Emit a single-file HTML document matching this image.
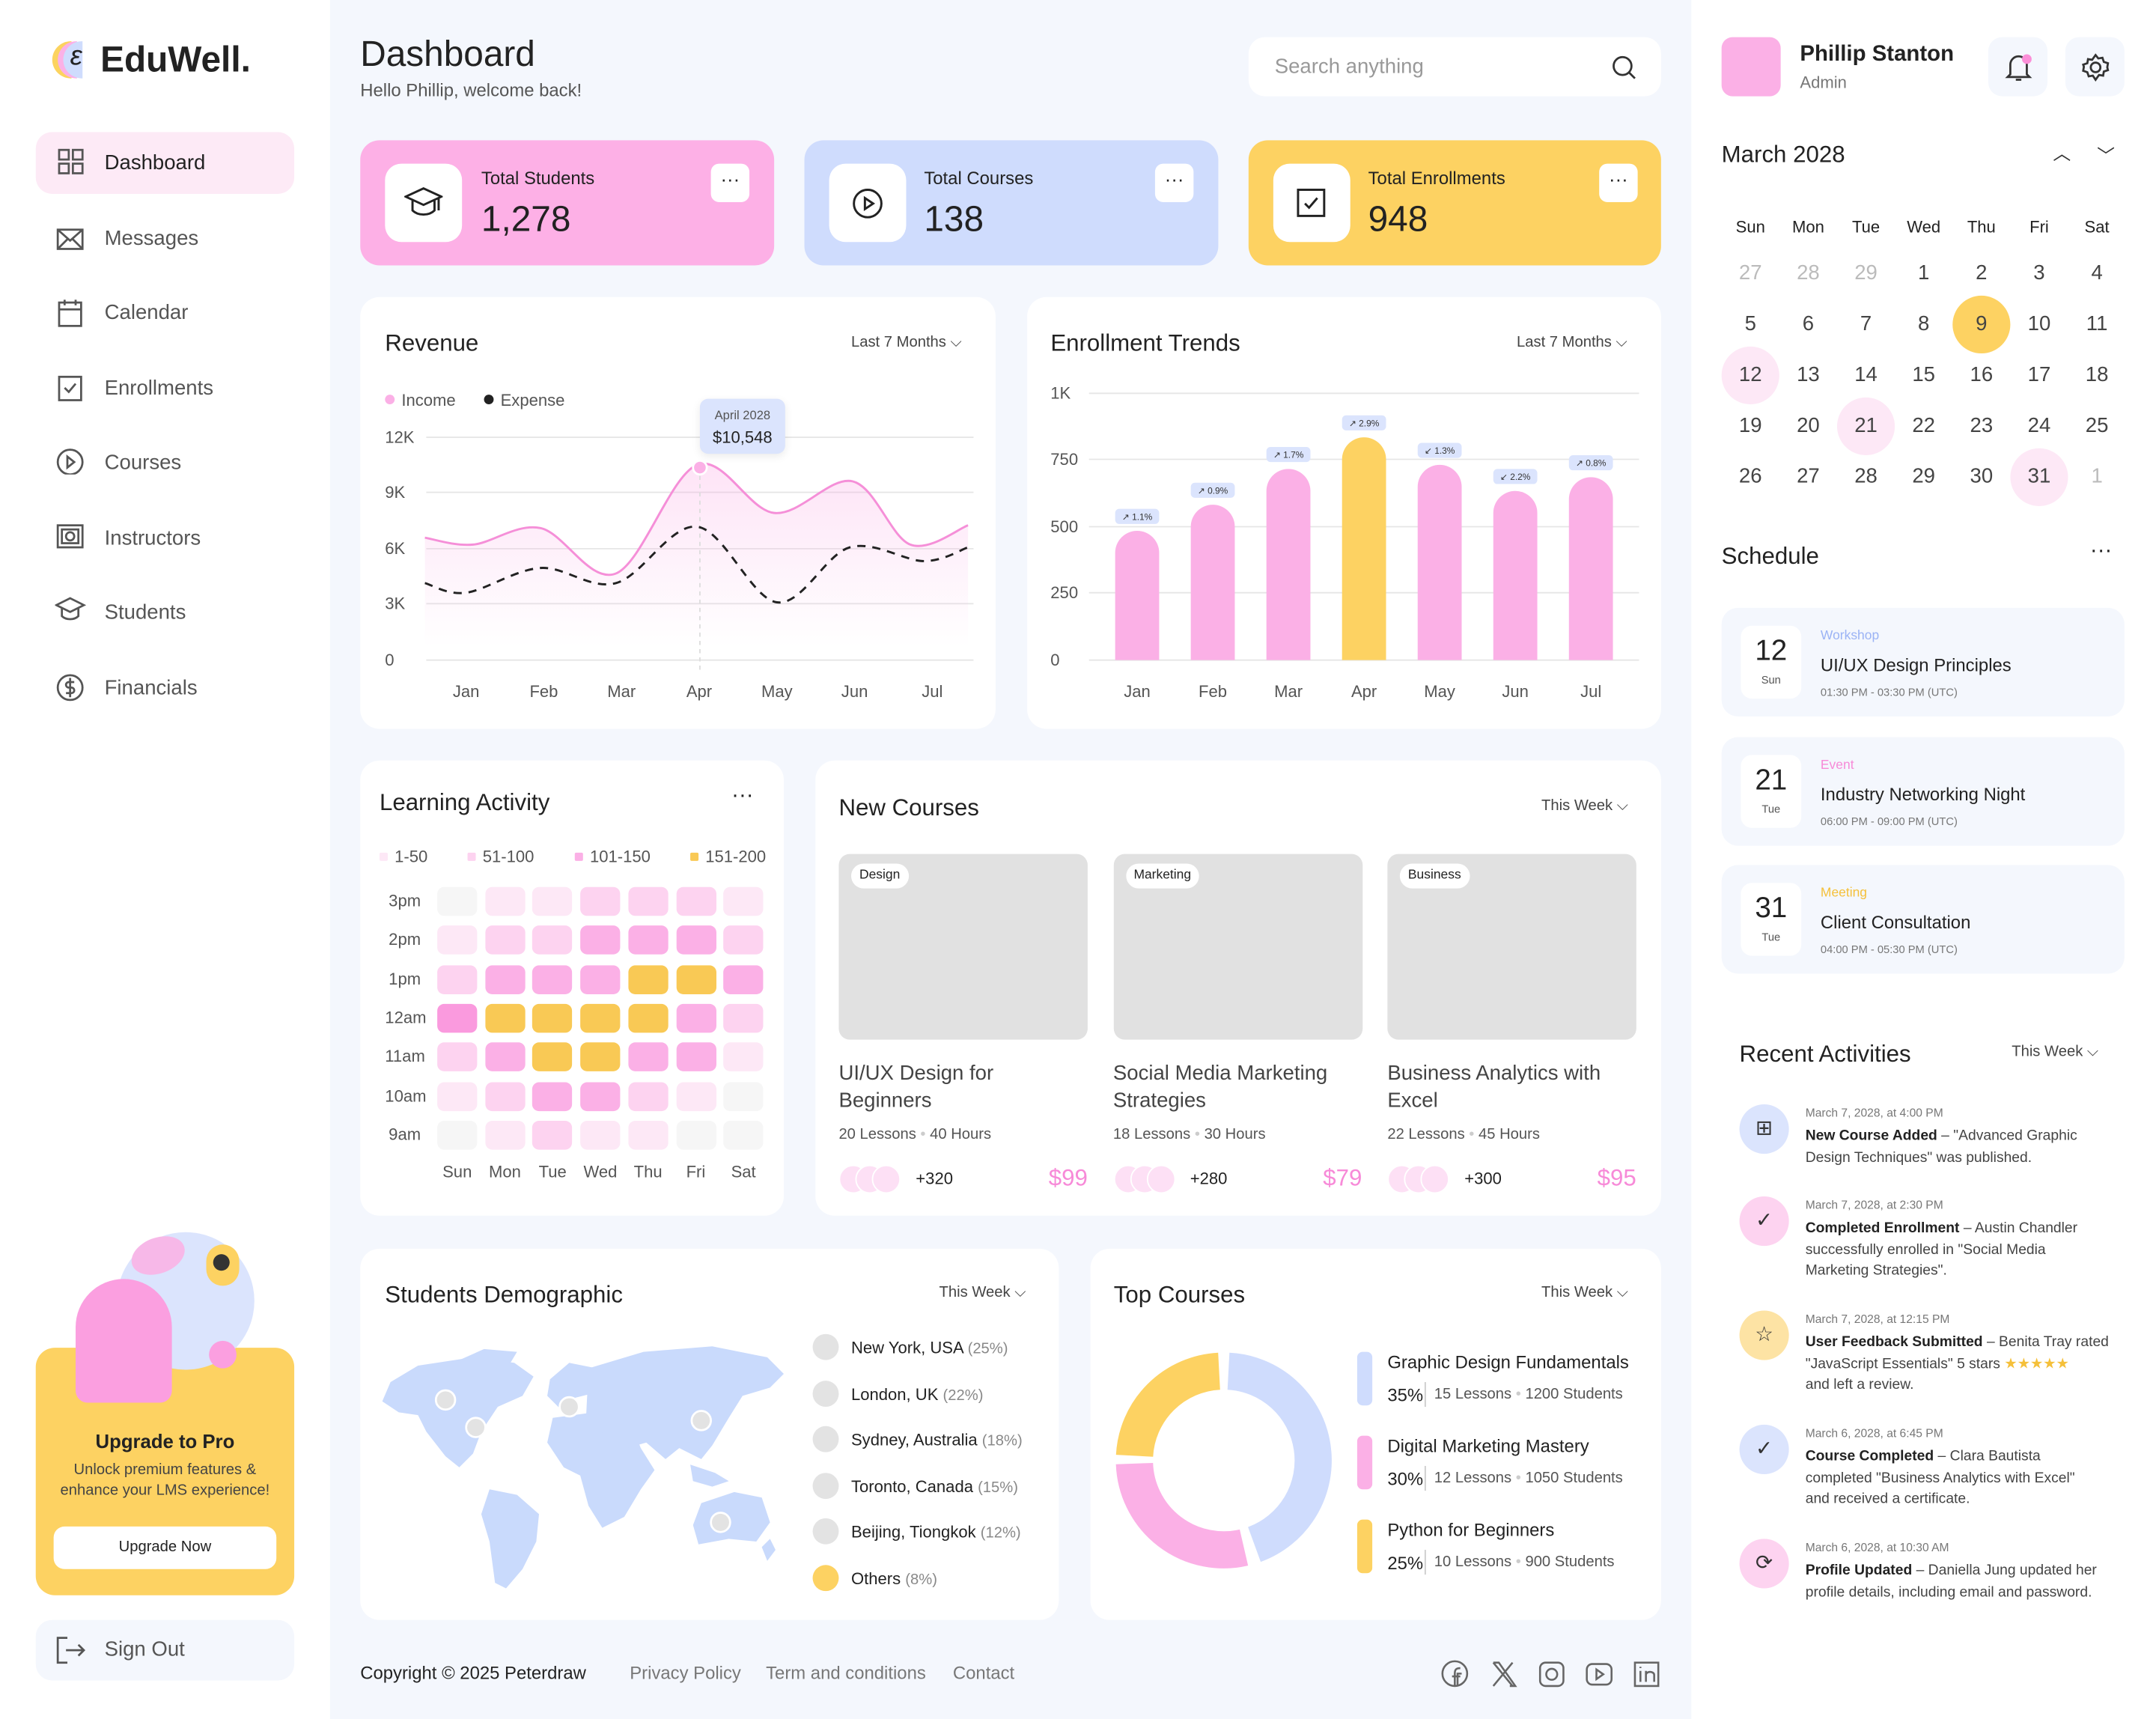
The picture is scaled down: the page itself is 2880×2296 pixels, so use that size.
<!DOCTYPE html>
<html><head><meta charset="utf-8">
<style>
*{box-sizing:border-box;margin:0;padding:0}
html,body{width:2880px;height:2294px;overflow:hidden;background:#f4f7fd}
#w{position:absolute;left:0;top:0;width:1568px;height:1250px;transform:scale(1.8368);transform-origin:0 0;font-family:"Liberation Sans",sans-serif;color:#222;background:#f4f7fd}
.a{position:absolute}
.card{position:absolute;background:#fff;border-radius:14px}
.t{position:absolute;white-space:nowrap}
.h{font-size:17px;color:#222}
.dd{font-size:11px;color:#444}
.nav{position:absolute;left:40px;font-size:15px;color:#555}
.g{color:#888}
</style></head><body><div id="w">
<!-- sidebar -->
<div class="a" style="left:0;top:0;width:240px;height:1250px;background:#fff"></div>
<div class="a" style="left:1230px;top:0;width:338px;height:1250px;background:#fff"></div>
<div class="a" style="left:38px;top:30px;width:14px;height:27px;border-radius:14px 0 0 14px;background:#fcd35f"></div>
<div class="a" style="left:42px;top:30px;width:14px;height:27px;border-radius:14px 0 0 14px;background:#fbb1e6"></div>
<div class="a" style="left:46px;top:30px;width:14px;height:27px;border-radius:14px 0 0 14px;background:#cfdcfd"></div>
<div class="t" style="left:51px;top:30px;font-size:20px;font-style:italic">ε</div>
<div class="t" style="left:73px;top:28px;font-size:26px;font-weight:bold;color:#222">EduWell.</div>
<div class="a" style="left:26px;top:96px;width:188px;height:45px;border-radius:12px;background:#fdeaf6"></div>
<svg class="a" style="left:40px;top:105px" width="24" height="240" fill="none" stroke="#555" stroke-width="1.5">
<rect x="3" y="4" width="7" height="7"/><rect x="13" y="4" width="7" height="7"/><rect x="3" y="14" width="7" height="7"/><rect x="13" y="14" width="7" height="7"/>
<rect x="2" y="62" width="18" height="14"/><path d="M2 62l9 8 9-8M2 76l7-7M20 76l-7-7"/>
<rect x="3" y="115" width="16" height="17"/><path d="M3 120h16M7 113v4M15 113v4"/>
<rect x="3" y="169" width="16" height="17"/><path d="M7 177l3 3 5-6"/>
<circle cx="11" cy="231" r="9"/><path d="M9 227v8l5-4z"/>
</svg>
<svg class="a" style="left:40px;top:378px" width="24" height="140" fill="none" stroke="#555" stroke-width="1.5">
<rect x="2" y="4" width="18" height="16"/><rect x="5" y="7" width="12" height="10"/><circle cx="11" cy="12" r="3"/>
<path d="M1 62l10-5 10 5-10 5zM5 64v6c3 3 9 3 12 0v-6"/>
<circle cx="11" cy="122" r="9"/><path d="M14 118h-4a2 2 0 000 4h2a2 2 0 010 4H8M11 115v14"/>
</svg>
<div class="nav" style="left:76px;top:110px;color:#222">Dashboard</div>
<div class="nav" style="left:76px;top:165px">Messages</div>
<div class="nav" style="left:76px;top:219px">Calendar</div>
<div class="nav" style="left:76px;top:274px">Enrollments</div>
<div class="nav" style="left:76px;top:328px">Courses</div>
<div class="nav" style="left:76px;top:383px">Instructors</div>
<div class="nav" style="left:76px;top:437px">Students</div>
<div class="nav" style="left:76px;top:492px">Financials</div>
<!-- upgrade -->
<div class="a" style="left:26px;top:980px;width:188px;height:180px;border-radius:14px;background:#fdd262"></div>
<div class="a" style="left:85px;top:896px;width:100px;height:100px;border-radius:50%;background:#dbe4fd"></div>
<div class="a" style="left:55px;top:930px;width:70px;height:90px;border-radius:40px 40px 10px 10px;background:#fb9fe0"></div>
<div class="a" style="left:95px;top:900px;width:40px;height:26px;border-radius:50%;background:#f7b8e8;transform:rotate(-20deg)"></div>
<div class="a" style="left:150px;top:905px;width:24px;height:30px;border-radius:12px;background:#fdd262"></div>
<div class="a" style="left:155px;top:912px;width:12px;height:12px;border-radius:50%;background:#333"></div>
<div class="a" style="left:152px;top:975px;width:20px;height:20px;border-radius:50%;background:#fb9fe0"></div>
<div class="t" style="left:26px;top:1040px;width:188px;text-align:center;font-size:14px;font-weight:bold">Upgrade to Pro</div>
<div class="t" style="left:26px;top:1062px;width:188px;text-align:center;font-size:11px;color:#444;line-height:15px;white-space:normal">Unlock premium features &amp;<br>enhance your LMS experience!</div>
<div class="a" style="left:39px;top:1110px;width:162px;height:31px;border-radius:8px;background:#fff;font-size:11px;text-align:center;line-height:31px">Upgrade Now</div>
<div class="a" style="left:26px;top:1178px;width:188px;height:44px;border-radius:12px;background:#f4f7fd"></div>
<svg class="a" style="left:40px;top:1189px" width="24" height="22" fill="none" stroke="#555" stroke-width="1.5"><path d="M9 2H2v18h7M8 11h13M17 7l4 4-4 4"/></svg>
<div class="nav" style="left:76px;top:1191px">Sign Out</div>

<!-- header -->
<div class="t" style="left:262px;top:24px;font-size:26px">Dashboard</div>
<div class="t" style="left:262px;top:58px;font-size:13px;color:#555">Hello Phillip, welcome back!</div>
<div class="a" style="left:908px;top:27px;width:300px;height:43px;border-radius:12px;background:#fff"></div>
<div class="t" style="left:927px;top:40px;font-size:15px;color:#999">Search anything</div>
<svg class="a" style="left:1172px;top:40px" width="18" height="18" fill="none" stroke="#333" stroke-width="1.5"><circle cx="8" cy="8" r="6.5"/><path d="M13 13l4 4"/></svg>

<!-- stats -->
<div class="a" style="left:262px;top:102px;width:301px;height:91px;border-radius:14px;background:#fdb0e6"></div>
<div class="a" style="left:585px;top:102px;width:301px;height:91px;border-radius:14px;background:#cfdcfd"></div>
<div class="a" style="left:908px;top:102px;width:300px;height:91px;border-radius:14px;background:#fdd262"></div>
<div class="a" style="left:280px;top:119px;width:56px;height:57px;border-radius:12px;background:#fff"></div>
<div class="a" style="left:603px;top:119px;width:56px;height:57px;border-radius:12px;background:#fff"></div>
<div class="a" style="left:926px;top:119px;width:56px;height:57px;border-radius:12px;background:#fff"></div>
<svg class="a" style="left:294px;top:134px" width="28" height="28" fill="none" stroke="#222" stroke-width="1.6"><path d="M1 9l13-6 13 6-13 6zM6 12v7c4 4 12 4 16 0v-7M25 10v9"/></svg>
<svg class="a" style="left:619px;top:136px" width="24" height="24" fill="none" stroke="#222" stroke-width="1.6"><circle cx="12" cy="12" r="10"/><path d="M10 8v8l6-4z"/></svg>
<svg class="a" style="left:943px;top:137px" width="22" height="22" fill="none" stroke="#222" stroke-width="1.6"><rect x="1" y="1" width="19" height="19"/><path d="M6 11l3 3 6-7"/></svg>
<div class="t" style="left:350px;top:122px;font-size:13px">Total Students</div>
<div class="t" style="left:350px;top:144px;font-size:26px">1,278</div>
<div class="t" style="left:672px;top:122px;font-size:13px">Total Courses</div>
<div class="t" style="left:672px;top:144px;font-size:26px">138</div>
<div class="t" style="left:995px;top:122px;font-size:13px">Total Enrollments</div>
<div class="t" style="left:995px;top:144px;font-size:26px">948</div>
<div class="a" style="left:517px;top:119px;width:28px;height:28px;border-radius:6px;background:#fff;text-align:center;font-size:14px;line-height:22px">···</div>
<div class="a" style="left:840px;top:119px;width:28px;height:28px;border-radius:6px;background:#fff;text-align:center;font-size:14px;line-height:22px">···</div>
<div class="a" style="left:1163px;top:119px;width:28px;height:28px;border-radius:6px;background:#fff;text-align:center;font-size:14px;line-height:22px">···</div>

<!-- revenue -->
<div class="card" style="left:262px;top:216px;width:462px;height:314px"></div>
<div class="t h" style="left:280px;top:240px">Revenue</div>
<div class="t dd" style="left:619px;top:243px">Last 7 Months ⌵</div>
<div class="a" style="left:280px;top:287px;width:7px;height:7px;border-radius:50%;background:#fbb0e6"></div>
<div class="t" style="left:292px;top:284px;font-size:12px;color:#555">Income</div>
<div class="a" style="left:352px;top:287px;width:7px;height:7px;border-radius:50%;background:#222"></div>
<div class="t" style="left:364px;top:284px;font-size:12px;color:#555">Expense</div>
<svg class="a" style="left:262px;top:216px" width="462" height="314" id="rev"></svg>
<div class="a" style="left:509px;top:290px;width:62px;height:40px;border-radius:6px;background:#dbe4fd;box-shadow:0 2px 6px rgba(0,0,0,.08)"></div>
<div class="t" style="left:509px;top:297px;width:62px;text-align:center;font-size:9px;color:#555">April 2028</div>
<div class="t" style="left:509px;top:311px;width:62px;text-align:center;font-size:12px">$10,548</div>

<!-- enrollment -->
<div class="card" style="left:747px;top:216px;width:461px;height:314px"></div>
<div class="t h" style="left:764px;top:240px">Enrollment Trends</div>
<div class="t dd" style="left:1103px;top:243px">Last 7 Months ⌵</div>
<svg class="a" style="left:747px;top:216px" width="461" height="314" id="enr"></svg>

<!-- learning activity -->
<div class="card" style="left:262px;top:553px;width:308px;height:331px"></div>
<div class="t h" style="left:276px;top:574px">Learning Activity</div>
<div class="t" style="left:532px;top:570px;font-size:16px">···</div>
<div id="la"></div>

<!-- new courses -->
<div class="card" style="left:593px;top:553px;width:615px;height:331px"></div>
<div class="t h" style="left:610px;top:578px">New Courses</div>
<div class="t dd" style="left:1121px;top:580px">This Week ⌵</div>
<div id="nc"></div>

<!-- demographic -->
<div class="card" style="left:262px;top:908px;width:508px;height:270px"></div>
<div class="t h" style="left:280px;top:932px">Students Demographic</div>
<div class="t dd" style="left:683px;top:934px">This Week ⌵</div>
<svg class="a" style="left:278px;top:975px" width="295" height="180" fill="#c9dafc">
<path d="M6 30l20-12 40-6 30 4 14 10-8 14-18 8-12 18-6 16-10 10-10-8-14-18-6-12-14-2-12-8z"/>
<path d="M56 14l18-8 24 2-6 10-20 4z"/>
<path d="M78 108l20 4 16 14-2 20-10 20-12 14-8-4-4-30-6-20z"/>
<path d="M122 28l14-12 20 4 8 10-10 8-16 4-8 8-10-10z"/>
<path d="M124 56l30-4 26 6 8 20 10 16-10 14-12 20-16 8-10-16-6-22-12-6-12-18z"/>
<path d="M150 20l40-12 50-4 40 8 12 12-10 10-20 6-10 16-12 20-8 10-16-8-10 8-14-12-14 4-16-10-14-8z"/>
<path d="M190 48l24 8 10 14-14 4-16-6z"/>
<path d="M224 90l18 6 10 6-12 4-14-4z"/>
<path d="M232 118l24-8 20 4 6 18-10 14-20-2-22 4-4-14z"/>
<path d="M276 150l6-6 4 8-6 8z"/>
</svg>
<svg class="a" style="left:278px;top:975px" width="295" height="180" fill="#e3e3e3" stroke="#fff" stroke-width="1.5">
<circle cx="46" cy="43" r="7"/><circle cx="68" cy="63" r="7"/><circle cx="136" cy="48" r="7"/><circle cx="232" cy="58" r="7"/><circle cx="246" cy="132" r="7"/>
</svg>
<div id="dm"></div>

<!-- top courses -->
<div class="card" style="left:793px;top:908px;width:415px;height:270px"></div>
<div class="t h" style="left:810px;top:932px">Top Courses</div>
<div class="t dd" style="left:1121px;top:934px">This Week ⌵</div>
<svg class="a" style="left:793px;top:970px" width="190" height="190" id="donut"></svg>
<div id="tc"></div>

<!-- footer -->
<div class="t" style="left:262px;top:1209px;font-size:13px">Copyright © 2025 Peterdraw</div>
<div class="t" style="left:458px;top:1209px;font-size:13px;color:#777">Privacy Policy</div>
<div class="t" style="left:557px;top:1209px;font-size:13px;color:#777">Term and conditions</div>
<div class="t" style="left:693px;top:1209px;font-size:13px;color:#777">Contact</div>
<svg class="a" style="left:1048px;top:1206px" width="162" height="22" fill="none" stroke="#666" stroke-width="1.4">
<circle cx="10" cy="11" r="9"/><path d="M12 20v-9h3M10 20v-9c0-3 1-4 4-4M8 13h6"/>
<path d="M38 3l14 17M52 3L38 20M38 3h4l12 17h-4"/>
<rect x="72" y="3" width="17" height="17" rx="4"/><circle cx="80.5" cy="11.5" r="4"/>
<rect x="106" y="4" width="18" height="15" rx="4"/><path d="M113 8v7l5-3.5z"/>
<rect x="141" y="3" width="17" height="17"/><path d="M145 9v8M145 6v1M149 17v-8M149 12c0-3 6-3 6 0v5"/>
</svg>

<!-- right panel -->
<div class="a" style="left:1252px;top:27px;width:43px;height:43px;border-radius:8px;background:#fbb0e6"></div>
<div class="t" style="left:1309px;top:31px;font-size:16px;font-weight:bold">Phillip Stanton</div>
<div class="t" style="left:1309px;top:53px;font-size:12px;color:#777">Admin</div>
<div class="a" style="left:1446px;top:27px;width:43px;height:43px;border-radius:10px;background:#f4f7fd"></div>
<div class="a" style="left:1502px;top:27px;width:43px;height:43px;border-radius:10px;background:#f4f7fd"></div>
<svg class="a" style="left:1458px;top:38px" width="20" height="22" fill="none" stroke="#333" stroke-width="1.5"><path d="M4 16V9a6 6 0 0112 0v7l2 2H2zM8 20h4"/><circle cx="16" cy="5" r="3.5" fill="#fb8fd8" stroke="none"/></svg>
<svg class="a" style="left:1513px;top:38px" width="22" height="22" fill="none" stroke="#333" stroke-width="1.5"><circle cx="11" cy="11" r="3.5"/><path d="M11 2l2 2.5 3-.5 1 3 3 1-.5 3L20 13l-3 1-.5 3-3-.5L11 20l-2-3-3 .5-1-3-3-1 .5-3L2 9l3-1 .5-3 3 .5z"/></svg>
<div class="t" style="left:1252px;top:103px;font-size:17px">March 2028</div>
<div class="t" style="left:1493px;top:101px;font-size:13px;color:#333">︿</div>
<div class="t" style="left:1525px;top:103px;font-size:13px;color:#333">﹀</div>
<div id="cal"></div>
<div class="t h" style="left:1252px;top:395px">Schedule</div>
<div class="t" style="left:1520px;top:392px;font-size:16px">···</div>
<div id="sch"></div>
<div class="t h" style="left:1265px;top:757px">Recent Activities</div>
<div class="t dd" style="left:1463px;top:759px">This Week ⌵</div>
<div id="ra"></div>
</div>
<script>
function $(id){return document.getElementById(id)}
function H(id,s){$(id).insertAdjacentHTML('beforeend',s)}
function cr(p){let d='M'+p[0][0]+' '+p[0][1];for(let i=0;i<p.length-1;i++){let a=p[i-1]||p[i],b=p[i],c=p[i+1],e=p[i+2]||c;d+=' C'+(b[0]+(c[0]-a[0])/6)+' '+(b[1]+(c[1]-a[1])/6)+' '+(c[0]-(e[0]-b[0])/6)+' '+(c[1]-(e[1]-b[1])/6)+' '+c[0]+' '+c[1];}return d}
(function(){let ox=262,oy=216,s='<defs><linearGradient id="gr" x1="0" y1="0" x2="0" y2="1"><stop offset="0" stop-color="#fbb0e6" stop-opacity=".35"/><stop offset="1" stop-color="#fbb0e6" stop-opacity="0"/></linearGradient></defs>';
[[318,'12K'],[358,'9K'],[399,'6K'],[439,'3K'],[480,'0']].forEach(g=>{s+=`<line x1="48" x2="446" y1="${g[0]-oy}" y2="${g[0]-oy}" stroke="#e6e6e6"/><text x="18" y="${g[0]-oy+4}" font-size="12" fill="#555">${g[1]}</text>`});
['Jan','Feb','Mar','Apr','May','Jun','Jul'].forEach((m,i)=>{s+=`<text x="${339+i*56.5-ox}" y="${507-oy}" font-size="12" fill="#555" text-anchor="middle">${m}</text>`});
let inc=[[309,391],[344,396],[393,384],[448,417],[507,338],[563,373],[620,350],[662,396],[704,382]].map(p=>[p[0]-ox,p[1]-oy]);
let ex=[[309,424],[339,431],[393,413],[448,424],[507,383],[565,438],[618,398],[672,408],[704,398]].map(p=>[p[0]-ox,p[1]-oy]);
let d=cr(inc);s+=`<path d="${d} L442 ${470-oy} L47 ${470-oy}Z" fill="url(#gr)"/>`;
s+=`<line x1="${509-ox}" x2="${509-ox}" y1="${340-oy}" y2="${488-oy}" stroke="#ddd" stroke-dasharray="3 3"/>`;
s+=`<path d="${d}" fill="none" stroke="#f58fd8" stroke-width="1.6"/><path d="${cr(ex)}" fill="none" stroke="#222" stroke-width="1.6" stroke-dasharray="6 5"/>`;
s+=`<circle cx="${509-ox}" cy="${340-oy}" r="5" fill="#fbb0e6" stroke="#fff" stroke-width="1.5"/>`;
$('rev').innerHTML=s})();
(function(){let ox=747,oy=216,s='';
[[286,'1K'],[334,'750'],[383,'500'],[431,'250'],[480,'0']].forEach(g=>{s+=`<line x1="45" x2="445" y1="${g[0]-oy}" y2="${g[0]-oy}" stroke="#e6e6e6"/><text x="17" y="${g[0]-oy+4}" font-size="12" fill="#555">${g[1]}</text>`});
let tops=[386,367,341,318,338,357,347],lab=['↗ 1.1%','↗ 0.9%','↗ 1.7%','↗ 2.9%','↙ 1.3%','↙ 2.2%','↗ 0.8%'];
['Jan','Feb','Mar','Apr','May','Jun','Jul'].forEach((m,i)=>{let cx=827+i*55-ox,t=tops[i]-oy,c=i==3?'#fdd262':'#fbb0e6';
s+=`<path d="M${cx-16} ${480-oy}V${t+16}a16 16 0 0132 0V${480-oy}z" fill="${c}"/>`;
s+=`<rect x="${cx-16}" y="${t-16}" width="32" height="11" rx="3" fill="#dbe4fd"/><text x="${cx}" y="${t-8}" font-size="6.5" fill="#333" text-anchor="middle">${lab[i]}</text>`;
s+=`<text x="${cx}" y="${507-oy}" font-size="12" fill="#555" text-anchor="middle">${m}</text>`});
$('enr').innerHTML=s})();
(function(){let s='';let col=['#f6f6f6','#fde8f6','#fdd3f0','#fbb0e6','#f9c955','#fa9ade'];
let L=[['#fde8f6','1-50',276],['#fdd3f0','51-100',340],['#fbb0e6','101-150',418],['#f9c955','151-200',502]];
L.forEach(l=>{s+=`<div class="a" style="left:${l[2]}px;top:620px;width:6px;height:6px;border-radius:1px;background:${l[0]}"></div><div class="t" style="left:${l[2]+11}px;top:616px;font-size:12px;color:#555">${l[1]}</div>`});
let rows=['3pm','2pm','1pm','12am','11am','10am','9am'];
let g=[[0,1,1,2,2,2,1],[1,2,2,3,3,3,2],[2,3,3,3,4,4,3],[5,4,4,4,4,3,2],[2,3,4,4,3,3,1],[1,2,3,3,2,1,0],[0,1,2,1,1,0,0]];
rows.forEach((r,i)=>{let y=655+i*28.3;s+=`<div class="t" style="left:280px;top:${y-7}px;width:26px;text-align:right;font-size:12px;color:#555">${r}</div>`;
g[i].forEach((v,j)=>{s+=`<div class="a" style="left:${318+j*34.7}px;top:${y-10}px;width:29px;height:21px;border-radius:5px;background:${col[v]}"></div>`})});
['Sun','Mon','Tue','Wed','Thu','Fri','Sat'].forEach((d,j)=>{s+=`<div class="t" style="left:${318+j*34.7-6}px;top:845px;width:41px;text-align:center;font-size:12px;color:#555">${d}</div>`});
H('la',s)})();
(function(){let s='';let C=[['Design','UI/UX Design for','Beginners','20 Lessons','40 Hours','+320','$99'],['Marketing','Social Media Marketing','Strategies','18 Lessons','30 Hours','+280','$79'],['Business','Business Analytics with','Excel','22 Lessons','45 Hours','+300','$95']];
C.forEach((c,i)=>{let x=610+i*199.5;
s+=`<div class="a" style="left:${x}px;top:621px;width:181px;height:135px;border-radius:8px;background:#e1e1e1"></div>
<div class="a" style="left:${x+9}px;top:628px;height:18px;padding:0 6px;border-radius:9px;background:#fff;font-size:9.5px;line-height:18px">${c[0]}</div>
<div class="t" style="left:${x}px;top:771px;font-size:15px;color:#444;line-height:20px">${c[1]}<br>${c[2]}</div>
<div class="t" style="left:${x}px;top:819px;font-size:11px;color:#555">${c[3]} <span style="color:#ccc">•</span> ${c[4]}</div>`;
for(let k=0;k<3;k++)s+=`<div class="a" style="left:${x+k*12}px;top:847px;width:21px;height:21px;border-radius:50%;background:#fde0f5;border:1.5px solid #fff"></div>`;
s+=`<div class="t" style="left:${x+56}px;top:850px;font-size:12px">${c[5]}</div><div class="t" style="left:${x+135}px;top:847px;width:46px;text-align:right;font-size:17px;color:#f78ad8">${c[6]}</div>`});
H('nc',s)})();
(function(){let s='';[['New York, USA','25%'],['London, UK','22%'],['Sydney, Australia','18%'],['Toronto, Canada','15%'],['Beijing, Tiongkok','12%'],['Others','8%']].forEach((d,i)=>{let y=980+i*33.5;
s+=`<div class="a" style="left:591px;top:${y-10}px;width:19px;height:19px;border-radius:50%;background:${i==5?'#fdd262':'#e3e3e3'}"></div><div class="t" style="left:619px;top:${y-7}px;font-size:12px">${d[0]} <span style="color:#888;font-size:11px">(${d[1]})</span></div>`});H('dm',s)})();
(function(){let cx=97,cy=92,r=65;function pt(a){a=(a-90)*Math.PI/180;return [cx+r*Math.cos(a),cy+r*Math.sin(a)]}
function arc(a,b,c){let p=pt(a),q=pt(b);return `<path d="M${p[0]} ${p[1]}A${r} ${r} 0 ${b-a>180?1:0} 1 ${q[0]} ${q[1]}" fill="none" stroke="${c}" stroke-width="27"/>`}
$('donut').innerHTML=arc(3,160,'#cfdcfd')+arc(167,268,'#fbb0e6')+arc(273,357,'#fdd262')})();
(function(){let s='';[['#cfdcfd','Graphic Design Fundamentals','35%','15 Lessons','1200 Students'],['#fbb0e6','Digital Marketing Mastery','30%','12 Lessons','1050 Students'],['#fdd262','Python for Beginners','25%','10 Lessons','900 Students']].forEach((t,i)=>{let y=983+i*61;
s+=`<div class="a" style="left:987px;top:${y}px;width:11px;height:39px;border-radius:4px;background:${t[0]}"></div><div class="t" style="left:1009px;top:${y}px;font-size:13px">${t[1]}</div><div class="t" style="left:1009px;top:${y+24}px;font-size:13px">${t[2]}</div><div class="t" style="left:1036px;top:${y+22}px;width:1px;height:18px;background:#ccc"></div><div class="t" style="left:1043px;top:${y+25}px;font-size:11px;color:#555">${t[3]} <span style="color:#ccc">•</span> ${t[4]}</div>`});H('tc',s)})();
(function(){let s='';let xs=[1273,1315,1357,1399,1441,1483,1525];
['Sun','Mon','Tue','Wed','Thu','Fri','Sat'].forEach((d,j)=>{s+=`<div class="t" style="left:${xs[j]-20}px;top:158px;width:40px;text-align:center;font-size:12px">${d}</div>`});
let days=[27,28,29,1,2,3,4,5,6,7,8,9,10,11,12,13,14,15,16,17,18,19,20,21,22,23,24,25,26,27,28,29,30,31,1];
days.forEach((d,k)=>{let r=Math.floor(k/7),c=k%7,x=xs[c],y=199+r*37;let other=(k<3||k==34);let bg='';
if(k==11)bg='#fdd262';if(k==14||k==23||k==33)bg='#fde8f6';
if(bg)s+=`<div class="a" style="left:${x-21}px;top:${y-21}px;width:42px;height:42px;border-radius:50%;background:${bg}"></div>`;
s+=`<div class="t" style="left:${x-20}px;top:${y-9}px;width:40px;text-align:center;font-size:15px;color:${other?'#bbb':'#444'}">${d}</div>`});H('cal',s)})();
(function(){let s='';[['12','Sun','Workshop','#9bb3f5','UI/UX Design Principles','01:30 PM - 03:30 PM (UTC)'],['21','Tue','Event','#f78ad8','Industry Networking Night','06:00 PM - 09:00 PM (UTC)'],['31','Tue','Meeting','#f5c03a','Client Consultation','04:00 PM - 05:30 PM (UTC)']].forEach((c,i)=>{let y=442+i*93.5;
s+=`<div class="a" style="left:1252px;top:${y}px;width:293px;height:79px;border-radius:12px;background:#f4f7fd"></div><div class="a" style="left:1266px;top:${y+13}px;width:44px;height:53px;border-radius:8px;background:#fff"></div>
<div class="t" style="left:1266px;top:${y+20}px;width:44px;text-align:center;font-size:21px">${c[0]}</div><div class="t" style="left:1266px;top:${y+48}px;width:44px;text-align:center;font-size:8px;color:#555">${c[1]}</div>
<div class="t" style="left:1324px;top:${y+15}px;font-size:9.5px;color:${c[3]}">${c[2]}</div><div class="t" style="left:1324px;top:${y+34}px;font-size:13px">${c[4]}</div><div class="t" style="left:1324px;top:${y+57}px;font-size:8px;color:#777">${c[5]}</div>`});H('sch',s)})();
(function(){let s='';let A=[[809,'#dbe4fd','⊞','March 7, 2028, at 4:00 PM','New Course Added',' – "Advanced Graphic<br>Design Techniques" was published.'],[876,'#fdd3f0','✓','March 7, 2028, at 2:30 PM','Completed Enrollment',' – Austin Chandler<br>successfully enrolled in "Social Media<br>Marketing Strategies".'],[959,'#fde3a4','☆','March 7, 2028, at 12:15 PM','User Feedback Submitted',' – Benita Tray rated<br>"JavaScript Essentials" 5 stars <span style="color:#f5c03a">★★★★★</span><br>and left a review.'],[1042,'#dbe4fd','✓','March 6, 2028, at 6:45 PM','Course Completed',' – Clara Bautista<br>completed "Business Analytics with Excel"<br>and received a certificate.'],[1125,'#fdd3f0','⟳','March 6, 2028, at 10:30 AM','Profile Updated',' – Daniella Jung updated her<br>profile details, including email and password.']];
A.forEach(a=>{let y=a[0];s+=`<div class="a" style="left:1265px;top:${y-6}px;width:36px;height:36px;border-radius:50%;background:${a[1]};text-align:center;line-height:36px;font-size:15px;color:#333">${a[2]}</div>
<div class="t" style="left:1313px;top:${y-5}px;font-size:8.5px;color:#777">${a[3]}</div>
<div class="t" style="left:1313px;top:${y+10}px;font-size:10.5px;line-height:15.5px;color:#444"><b style="color:#222">${a[4]}</b>${a[5]}</div>`});H('ra',s)})();
</script>
</body></html>
